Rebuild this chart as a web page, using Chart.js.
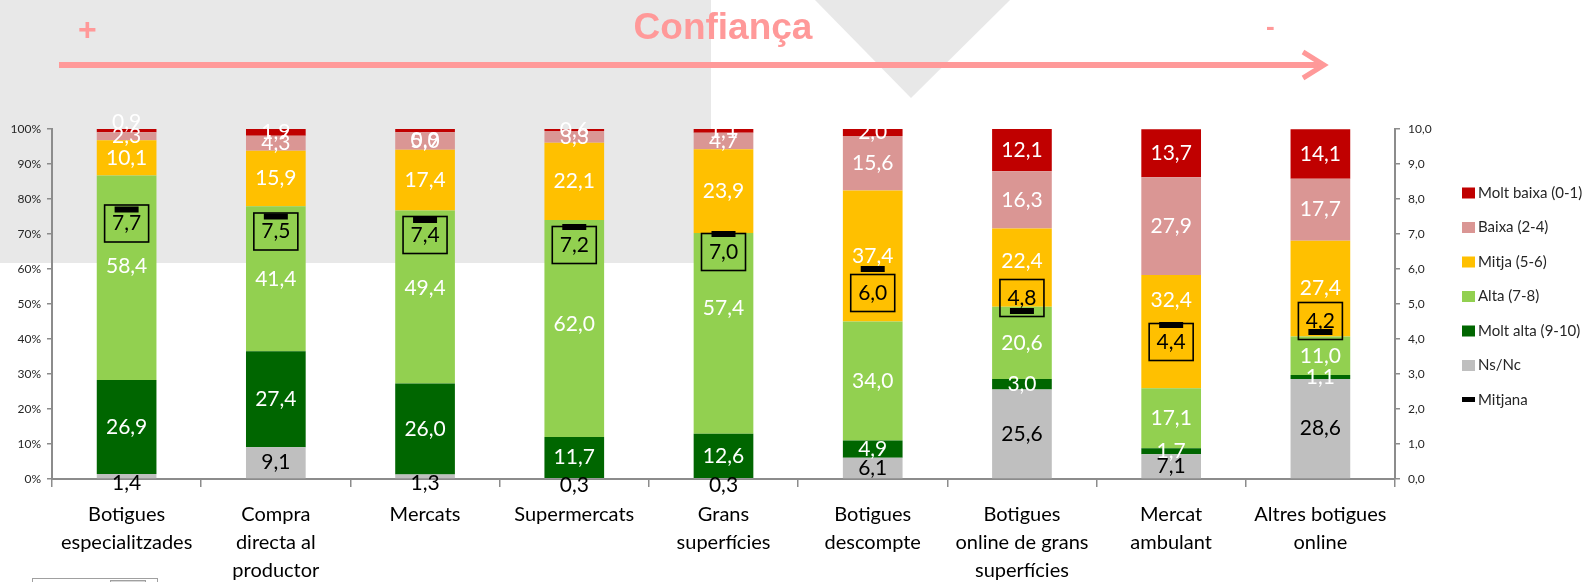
<!DOCTYPE html>
<html>
<head>
<meta charset="utf-8">
<script src="https://cdn.jsdelivr.net/npm/chart.js@4"></script>
<style>
  html, body { margin: 0; padding: 0; background: #fff; }
  #wrap { position: relative; width: 1587px; height: 582px; overflow: hidden; }
  #bg { position: absolute; left: 0; top: 0; }
  #myChart { position: absolute; left: 0; top: 0; }
  .pink { position: absolute; color: #ff9999; font-family: 'Liberation Sans', Arial, sans-serif; font-weight: bold; }
  #title { left: 0; width: 1446px; top: 6px; text-align: center; font-size: 37px; }
  #plus { left: 78px; top: 11px; font-size: 32px; }
  #minus { left: 1266px; top: 11px; font-size: 26px; }
  #smallbox { position: absolute; left: 32px; top: 578px; width: 124px; height: 10px; border: 1px solid #a0a0a0; }
  #smallbox div { position: absolute; left: 77px; top: 1px; width: 34px; height: 8px; border: 1px solid #a0a0a0; background: #d8d8d8; }
</style>
</head>
<body>
<div id="wrap">
  <svg id="bg" width="1587" height="582">
    <rect x="0" y="0" width="711" height="263" fill="#e8e8e8"></rect>
    <polygon points="815,0 1010,0 911,98" fill="#e8e8e8"></polygon>
    <line x1="59" y1="65" x2="1322" y2="65" stroke="#ff9999" stroke-width="6"></line>
    <polyline points="1303,52 1324,65 1303,78" fill="none" stroke="#ff9999" stroke-width="5"></polyline>
  </svg>
  <canvas id="myChart" width="1587" height="582"></canvas>
  <div class="pink" id="title">Confiança</div>
  <div class="pink" id="plus">+</div>
  <div class="pink" id="minus">-</div>
  <div id="smallbox"><div></div></div>
</div>
<script>
// categories (x axis)
const categories = [
  ['Botigues', 'especialitzades'],
  ['Compra', 'directa al', 'productor'],
  ['Mercats'],
  ['Supermercats'],
  ['Grans', 'superfícies'],
  ['Botigues', 'descompte'],
  ['Botigues', 'online de grans', 'superfícies'],
  ['Mercat', 'ambulant'],
  ['Altres botigues', 'online']
];

// % of answers, bottom to top
const nsNc      = [1.4, 9.1, 1.3, 0.3, 0.3, 6.1, 25.6, 7.1, 28.6];
const moltAlta  = [26.9, 27.4, 26.0, 11.7, 12.6, 4.9, 3.0, 1.7, 1.1];
const alta      = [58.4, 41.4, 49.4, 62.0, 57.4, 34.0, 20.6, 17.1, 11.0];
const mitja     = [10.1, 15.9, 17.4, 22.1, 23.9, 37.4, 22.4, 32.4, 27.4];
const baixa     = [2.3, 4.3, 5.0, 3.3, 4.7, 15.6, 16.3, 27.9, 17.7];
const moltBaixa = [0.9, 1.9, 0.9, 0.6, 1.1, 2.0, 12.1, 13.7, 14.1];

// average score (right axis, 0-10)
const mitjana = [7.7, 7.5, 7.4, 7.2, 7.0, 6.0, 4.8, 4.4, 4.2];

const leftTicks = [0, 10, 20, 30, 40, 50, 60, 70, 80, 90, 100];
const rightTicks = [0, 1, 2, 3, 4, 5, 6, 7, 8, 9, 10];

// label tweaks (px), like the hand moved labels in the original
const mitjanaLabelDy = [14, 15, 15, 18, 18, 24, -13, 17, -11];
const labelNudge = {
    'Alta (7-8)': { 0: -12, 2: -9, 3: -4, 4: -25 },
    'Mitja (5-6)': { 6: -6, 7: -31 },
    'Molt baixa (0-1)': { 0: -8, 2: 10 }
};

const FONT = 'Lato';

function fmt(v) {
    return v.toFixed(1).replace('.', ',');
}

const labelPlugin = {
    id: 'labelPlugin',
    afterDatasetsDraw(chart) {
        const ctx = chart.ctx;
        ctx.save();
        ctx.font = '21px ' + FONT;
        ctx.textAlign = 'center';
        ctx.textBaseline = 'middle';
        chart.data.datasets.forEach((ds, di) => {
            if (ds.type === 'line') return;
            const meta = chart.getDatasetMeta(di);
            const nudge = labelNudge[ds.label] || {};
            meta.data.forEach((el, i) => {
                let y = (el.y + el.base) / 2 + (nudge[i] || 0);
                // tiny grey segments at the bottom: label sits a bit lower
                if (ds.label === 'Ns/Nc' && ds.data[i] < 2) y += 7;
                ctx.fillStyle = ds.labelColor;
                ctx.fillText(fmt(ds.data[i]), el.x, y);
            });
        });
        // boxed average labels
        const mi = chart.data.datasets.findIndex(d => d.type === 'line');
        const meta = chart.getDatasetMeta(mi);
        meta.data.forEach((pt, i) => {
            const cy = pt.y + mitjanaLabelDy[i];
            ctx.strokeStyle = '#000';
            ctx.lineWidth = 1.6;
            ctx.strokeRect(pt.x - 22, cy - 18.5, 44, 37);
            ctx.fillStyle = '#000';
            ctx.fillText(fmt(mitjana[i]), pt.x, cy);
        });
        ctx.restore();
    },
    afterDraw(chart) {
        // legend on the right
        const ctx = chart.ctx;
        ctx.save();
        ctx.font = '15px ' + FONT;
        ctx.textBaseline = 'middle';
        ctx.textAlign = 'left';
        const order = ['Molt baixa (0-1)', 'Baixa (2-4)', 'Mitja (5-6)', 'Alta (7-8)', 'Molt alta (9-10)', 'Ns/Nc', 'Mitjana'];
        order.forEach((name, k) => {
            const ds = chart.data.datasets.find(d => d.label === name);
            const y = 193 + k * 34.5;
            if (ds.type === 'line') {
                ctx.fillStyle = '#000';
                ctx.fillRect(1462, y - 3, 13, 5);
            } else {
                ctx.fillStyle = ds.backgroundColor;
                ctx.fillRect(1462, y - 5.5, 13, 11);
            }
            ctx.fillStyle = '#262626';
            ctx.fillText(name, 1478, y);
        });
        ctx.restore();
    }
};

const data = {
    labels: categories,
    datasets: [
        {
            type: 'line',
            label: 'Mitjana',
            data: mitjana,
            yAxisID: 'y2',
            showLine: false,
            pointStyle: 'line',
            pointRadius: 12,
            pointBorderWidth: 6,
            borderColor: '#000',
            backgroundColor: '#000',
            order: -1
        },
        { type: 'bar', label: 'Ns/Nc', data: nsNc, backgroundColor: '#bfbfbf', labelColor: '#000' },
        { type: 'bar', label: 'Molt alta (9-10)', data: moltAlta, backgroundColor: '#006600', labelColor: '#fff' },
        { type: 'bar', label: 'Alta (7-8)', data: alta, backgroundColor: '#92d050', labelColor: '#fff' },
        { type: 'bar', label: 'Mitja (5-6)', data: mitja, backgroundColor: '#ffc000', labelColor: '#fff' },
        { type: 'bar', label: 'Baixa (2-4)', data: baixa, backgroundColor: '#da9694', labelColor: '#fff' },
        { type: 'bar', label: 'Molt baixa (0-1)', data: moltBaixa, backgroundColor: '#c00000', labelColor: '#fff' }
    ]
};

const axisColor = '#8c8c8c';

const config = {
    type: 'bar',
    data: data,
    options: {
        responsive: false,
        animation: false,
        devicePixelRatio: 1,
        layout: { padding: { top: 129, left: 0, right: 0, bottom: 0 } },
        datasets: { bar: { barPercentage: 0.4, categoryPercentage: 1 } },
        plugins: { legend: { display: false }, tooltip: { enabled: false } },
        scales: {
            x: {
                stacked: true,
                grid: { drawOnChartArea: false, offset: true, tickLength: 8, color: axisColor, lineWidth: 1.5 },
                border: { color: axisColor, width: 2 },
                ticks: { color: '#000', font: { family: FONT, size: 20, lineHeight: 1.4 }, padding: 14, maxRotation: 0, autoSkip: false },
                afterFit(s) { s.height = 103; }
            },
            y: {
                stacked: true,
                min: 0,
                max: 100,
                grid: { drawOnChartArea: false, tickLength: 5, color: axisColor, lineWidth: 1.5 },
                border: { color: axisColor, width: 2 },
                afterBuildTicks(s) { s.ticks = leftTicks.map(v => ({ value: v })); },
                ticks: { color: '#262626', font: { family: FONT, size: 12 }, padding: 6, callback: v => v + '%' },
                afterFit(s) { s.width = 52; }
            },
            y2: {
                position: 'right',
                min: 0,
                max: 10,
                grid: { drawOnChartArea: false, tickLength: 5, color: axisColor, lineWidth: 1.5 },
                border: { color: axisColor, width: 2 },
                afterBuildTicks(s) { s.ticks = rightTicks.map(v => ({ value: v })); },
                ticks: { color: '#262626', font: { family: FONT, size: 12 }, padding: 8, callback: v => fmt(v) },
                afterFit(s) { s.width = 192; }
            }
        }
    },
    plugins: [labelPlugin]
};

let myChart = new Chart(document.getElementById('myChart').getContext('2d'), config);
</script>
</body>
</html>
